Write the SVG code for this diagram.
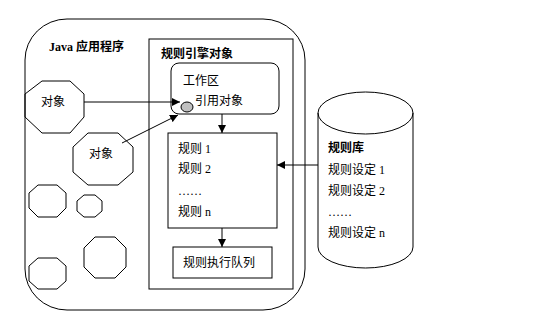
<svg xmlns="http://www.w3.org/2000/svg" width="549" height="316" viewBox="0 0 549 316">
<defs>
<style>
.s{fill:none;stroke:#000;stroke-width:1}
.w{fill:#fff;stroke:#000;stroke-width:1}
.t{font-family:"Liberation Serif","Noto Sans CJK SC",serif;font-size:12px;fill:#000}
.b{font-weight:bold}
.c{stroke:#000;stroke-width:1;fill:none}
</style>
<marker id="ah" viewBox="0 0 8 8" refX="8" refY="4" markerWidth="8" markerHeight="8" markerUnits="userSpaceOnUse" orient="auto">
<path d="M0,0 L8,4 L0,8 Z" fill="#000"/>
</marker>
</defs>
<rect width="549" height="316" fill="#fff"/>
<g id="java-app">
<rect class="s" x="25" y="19" width="280" height="291" rx="42" ry="41"/>
<text class="t b" x="49" y="51">Java 应用程序</text>
</g>
<g id="engine">
<rect class="s" x="149" y="39" width="144" height="250"/>
<text class="t b" x="161" y="58">规则引擎对象</text>
</g>
<g id="workarea">
<rect class="s" x="171" y="63" width="108" height="51" rx="8" ry="8"/>
<text class="t" x="183" y="85">工作区</text>
<text class="t" x="195" y="105">引用对象</text>
<ellipse cx="187" cy="107" rx="6" ry="5" fill="#c0c0c0" stroke="#000"/>
</g>
<g id="rules">
<rect class="s" x="168" y="133" width="109" height="95"/>
<text class="t" x="178" y="153">规则 1</text>
<text class="t" x="178" y="173">规则 2</text>
<text class="t" x="178" y="195">……</text>
<text class="t" x="178" y="216">规则 n</text>
</g>
<g id="queue">
<rect class="s" x="173" y="247" width="99" height="31"/>
<text class="t" x="183" y="267">规则执行队列</text>
</g>
<g id="rulebase">
<path class="s" d="M318,113 L318,247 A47.5,21 0 0 0 413,247 L413,113"/>
<ellipse class="s" cx="365.5" cy="113" rx="47.5" ry="21"/>
<text class="t b" x="328" y="152">规则库</text>
<text class="t" x="328" y="174">规则设定 1</text>
<text class="t" x="328" y="195">规则设定 2</text>
<text class="t" x="328" y="216">……</text>
<text class="t" x="328" y="237">规则设定 n</text>
</g>
<g id="obj1">
<polygon class="s" points="42,81 70,81 84,94 84,117 70,133 42,133 25,117 25,94"/>
<text class="t" x="41" y="106">对象</text>
</g>
<g id="obj2">
<polygon class="s" points="88,133 118,133 133,147 133,172 118,185 88,185 73,172 73,147"/>
<text class="t" x="89" y="158">对象</text>
</g>
<g id="oct-a"><polygon class="s" points="38,185 57,185 66,193 66,208 57,217 38,217 29,208 29,193"/></g>
<g id="oct-b"><polygon class="s" points="84,195 95,195 102,201 102,211 95,217 84,217 77,211 77,201"/></g>
<g id="oct-c"><polygon class="s" points="95,237 115,237 126,248 126,267 115,278 95,278 84,267 84,248"/></g>
<g id="oct-d"><polygon class="s" points="38,258 57,258 66,266 66,281 57,289 38,289 29,281 29,266"/></g>
<g id="connectors">
<line class="c" x1="84" y1="102" x2="180" y2="102" marker-end="url(#ah)"/>
<line class="c" x1="122" y1="143" x2="178" y2="115" marker-end="url(#ah)"/>
<line class="c" x1="222" y1="114" x2="222" y2="133" marker-end="url(#ah)"/>
<line class="c" x1="222" y1="228" x2="222" y2="247" marker-end="url(#ah)"/>
<line class="c" x1="318" y1="165" x2="277" y2="165" marker-end="url(#ah)"/>
</g>
</svg>
